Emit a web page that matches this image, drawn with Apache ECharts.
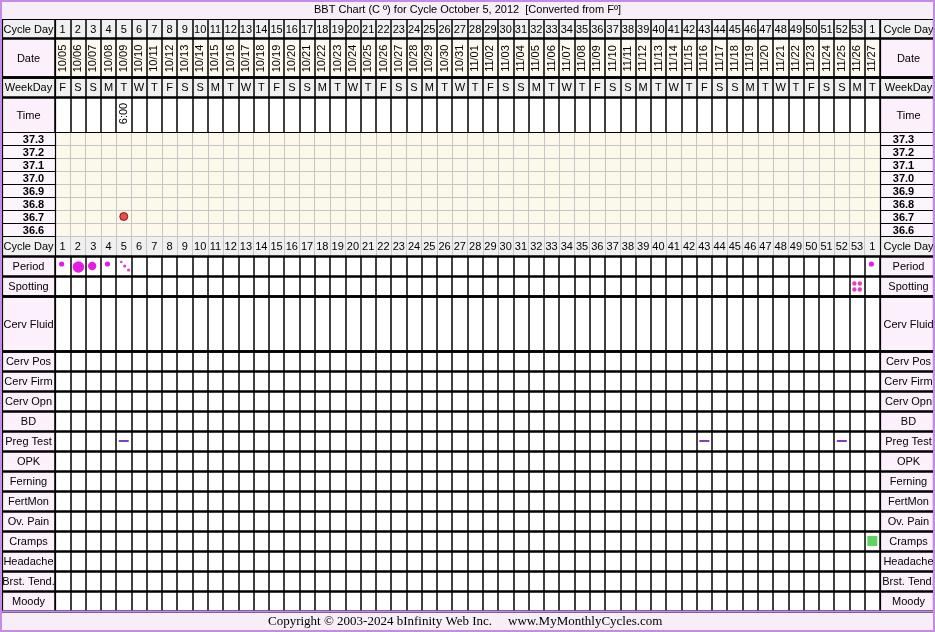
<!DOCTYPE html>
<html><head><meta charset="utf-8">
<script src="https://cdn.jsdelivr.net/npm/echarts@6/dist/echarts.min.js"></script>
<style>html,body{margin:0;padding:0;background:#fff}#c{width:935px;height:632px}</style>
</head><body><div id="c"></div>
<script>
// ---------- data ----------
const cycleDays = ['1','2','3','4','5','6','7','8','9','10','11','12','13','14','15','16','17','18','19','20','21','22','23','24','25','26','27','28','29','30','31','32','33','34','35','36','37','38','39','40','41','42','43','44','45','46','47','48','49','50','51','52','53','1'];
const dates = ['10/05','10/06','10/07','10/08','10/09','10/10','10/11','10/12','10/13','10/14','10/15','10/16','10/17','10/18','10/19','10/20','10/21','10/22','10/23','10/24','10/25','10/26','10/27','10/28','10/29','10/30','10/31','11/01','11/02','11/03','11/04','11/05','11/06','11/07','11/08','11/09','11/10','11/11','11/12','11/13','11/14','11/15','11/16','11/17','11/18','11/19','11/20','11/21','11/22','11/23','11/24','11/25','11/26','11/27'];
const weekDays = ['F','S','S','M','T','W','T','F','S','S','M','T','W','T','F','S','S','M','T','W','T','F','S','S','M','T','W','T','F','S','S','M','T','W','T','F','S','S','M','T','W','T','F','S','S','M','T','W','T','F','S','S','M','T'];
const tempLabels = ['37.3','37.2','37.1','37.0','36.9','36.8','36.7','36.6'];
const upperLabels = ['Cycle Day','Date','WeekDay','Time'];
const flowLabels = ['Period','Spotting'];
const fluidLabels = ['Cerv Fluid'];
const lowerLabels = ['Cerv Pos','Cerv Firm','Cerv Opn','BD','Preg Test','OPK','Ferning','FertMon','Ov. Pain','Cramps','Headache','Brst. Tend.','Moody'];
const timeCols = [5];
const timeVals = ['6:00'];
const bbtCols = [5];
const bbtTemps = [36.7];
const periodCols = [1,2,3,4,5,54];
const periodFlow = ['light','heavy','medium','light','spot','light'];
const spottingCols = [53];
const pregTestCols = [5,43,52];
const pregTestResult = ['neg','neg','neg'];
const crampsCols = [54];
const titleText = 'BBT Chart (C \u00ba) for Cycle October 5, 2012  [Converted from F\u00ba]';
const footerLeft = 'Copyright \u00a9 2003-2024 bInfinity Web Inc.';
const footerRight = 'www.MyMonthlyCycles.com';

// ---------- layout ----------
const FONT = '"Liberation Sans", Arial, sans-serif';
const GREY = '#f0f0f0', PINK = '#fdf0fd', CREAM = '#fdf9ee', TCREAM = '#fcf8ea', LGRID = '#c6c6c6';
const bands = [
  {top:19, h:19, rows:[upperLabels[0]], mbg:GREY, lbg:GREY, vc:'#000', vw:1.5, hc:'#000', hw:1, z:1},
  {top:38, h:39, rows:[upperLabels[1]], mbg:CREAM, lbg:PINK, vc:'#000', vw:1.5, hc:'#000', hw:2.5, z:1},
  {top:77, h:20, rows:[upperLabels[2]], mbg:GREY, lbg:GREY, vc:'#000', vw:1.5, hc:'#000', hw:2.5, z:1},
  {top:97, h:35, rows:[upperLabels[3]], mbg:'#fff', lbg:PINK, vc:'#000', vw:1.5, hc:'#000', hw:1, z:1},
  {top:132, h:104, rows:tempLabels, mbg:TCREAM, lbg:'#fdf5fd', vc:LGRID, vw:1, hc:LGRID, hw:1, z:0, bold:true},
  {top:236, h:20, rows:[upperLabels[0]], mbg:GREY, lbg:GREY, vc:LGRID, vw:1, hc:LGRID, hw:1, z:0},
  {top:256, h:40, rows:flowLabels, mbg:'#fff', lbg:PINK, vc:'#000', vw:1.5, hc:'#000', hw:2.5, z:1},
  {top:296, h:55, rows:fluidLabels, mbg:'#fff', lbg:PINK, vc:'#000', vw:1.5, hc:'#000', hw:2.5, z:1},
  {top:351, h:260, rows:lowerLabels, mbg:'#fff', lbg:PINK, vc:'#000', vw:1.5, hc:'#000', hw:2.5, z:1}
];
const cols3 = [{left:2, width:53, side:'L'}, {left:55, width:825, side:'M'}, {left:880, width:53, side:'R'}];

const grid = [], xAxis = [], yAxis = [], series = [];
const hidden = {axisLine:{show:false}, axisTick:{show:false, interval:0}, axisLabel:{show:false, interval:0}};

bands.forEach((b, bi) => {
  cols3.forEach((c, ci) => {
    const gi = bi*3 + ci;
    const isM = c.side === 'M';
    grid.push({left:c.left, top:b.top, width:c.width, height:b.h, show:true,
      backgroundColor: isM ? b.mbg : b.lbg, borderWidth:0, outerBoundsMode:'none'});
    xAxis.push(Object.assign({type:'category', gridIndex:gi, data: isM ? dates : ['x'],
      z: isM ? b.z : 2,
      splitLine:{show:true, interval:0, lineStyle:{color: isM ? b.vc : '#000', width: isM ? b.vw : 1.2}}}, hidden));
    yAxis.push(Object.assign({type:'category', gridIndex:gi, data:b.rows, inverse:true,
      z: isM ? b.z : 2,
      splitLine:{show:true, interval:0, lineStyle:{color: isM ? b.hc : '#000', width: isM ? b.hw : (b.hw === 2.5 ? 2.5 : 1)}}}, hidden));
    if (!isM) {
      const rows = b.rows;
      const dx = b.bold ? (c.side === 'L' ? 5 : -3) : (c.side === 'L' ? 0 : 2);
      series.push({type:'custom', xAxisIndex:gi, yAxisIndex:gi, silent:true, z:3,
        data: rows.map((r, i) => [0, i]),
        renderItem(params, api) {
          const p = api.coord([api.value(0), api.value(1)]);
          return {type:'text', x:p[0] + dx, y:p[1] + 1, style:{text: rows[params.dataIndex],
            font: (b.bold ? 'bold ' : '') + '11px ' + FONT, fill:'#000', align:'center', verticalAlign:'middle'}};
        }});
    }
  });
});

function mIdx(bi) { return bi*3 + 1; }
function cellText(bi, cols, texts, opt) {
  const gi = mIdx(bi);
  series.push({type:'custom', xAxisIndex:gi, yAxisIndex:gi, silent:true, z:3,
    data: cols.map(c => [c - 1, 0]),
    renderItem(params, api) {
      const p = api.coord([api.value(0), api.value(1)]);
      return {type:'text', x:p[0], y:p[1] + (opt.dy || 0), rotation: opt.rot || 0,
        style:{text: texts[params.dataIndex], font: '11px ' + FONT, fill:'#000', align:'center', verticalAlign:'middle'}};
    }});
}
const allCols = cycleDays.map((d, i) => i + 1);
cellText(0, allCols, cycleDays, {dy:1});
cellText(1, allCols, dates, {rot:Math.PI/2, dy:1});
cellText(2, allCols, weekDays, {dy:1});
cellText(3, timeCols, timeVals, {rot:Math.PI/2, dy:-1});
cellText(5, allCols, cycleDays, {dy:1});

// BBT temperature points
series.push({type:'scatter', xAxisIndex:mIdx(4), yAxisIndex:mIdx(4), z:5, silent:true,
  data: bbtCols.map((c, i) => [c - 1, bbtTemps[i].toFixed(1)]),
  symbol:'circle', symbolSize:8,
  itemStyle:{color:'#e8202a', borderColor:'#5a0000', borderWidth:1}});

// Period
series.push({type:'custom', xAxisIndex:mIdx(6), yAxisIndex:mIdx(6), silent:true, z:5,
  data: periodCols.map(c => [c - 1, 0]),
  renderItem(params, api) {
    const p = api.coord([api.value(0), api.value(1)]);
    const f = periodFlow[params.dataIndex];
    const col = '#e61ce6';
    if (f === 'spot') {
      return {type:'group', children:[[-2.5,-4,1.3],[1,0,1.6],[4.8,4,1.6]].map(o => ({type:'circle',
        shape:{cx:p[0]+o[0], cy:p[1]+o[1], r:o[2]}, style:{fill:'#e040c0'}}))};
    }
    const r = f === 'heavy' ? 5.8 : f === 'medium' ? 4.2 : 2.6;
    const dy = f === 'heavy' ? 1 : f === 'medium' ? 0 : -2;
    const dx = f === 'heavy' ? 0.5 : -1;
    return {type:'circle', shape:{cx:p[0]+dx, cy:p[1]+dy, r}, style:{fill:col}};
  }});
// Spotting
series.push({type:'custom', xAxisIndex:mIdx(6), yAxisIndex:mIdx(6), silent:true, z:5,
  data: spottingCols.map(c => [c - 1, 1]),
  renderItem(params, api) {
    const p = api.coord([api.value(0), api.value(1)]);
    return {type:'group', children:[[-2.7,-2.5],[2.7,-2.5],[-2.7,3.5],[2.7,3.5]].map(o => ({type:'circle',
      shape:{cx:p[0]+o[0], cy:p[1]+o[1], r:2.2}, style:{fill:'#e040c0'}}))};
  }});
// Preg test
series.push({type:'custom', xAxisIndex:mIdx(8), yAxisIndex:mIdx(8), silent:true, z:5,
  data: pregTestCols.map(c => [c - 1, lowerLabels.indexOf('Preg Test')]),
  renderItem(params, api) {
    const p = api.coord([api.value(0), api.value(1)]);
    return {type:'rect', shape:{x:p[0]-5, y:p[1]-1, width:10, height:2},
      style:{fill: pregTestResult[params.dataIndex] === 'neg' ? '#7f3fbf' : '#e02020'}};
  }});
// Cramps
series.push({type:'custom', xAxisIndex:mIdx(8), yAxisIndex:mIdx(8), silent:true, z:5,
  data: crampsCols.map(c => [c - 1, lowerLabels.indexOf('Cramps')]),
  renderItem(params, api) {
    const p = api.coord([api.value(0), api.value(1)]);
    return {type:'rect', shape:{x:p[0]-5, y:p[1]-5, width:10, height:10}, style:{fill:'#5fd35f'}};
  }});

const option = {
  animation:false,
  grid, xAxis, yAxis, series,
  graphic:[
    {type:'rect', z:-10, shape:{x:0, y:0, width:935, height:19}, style:{fill:'#f7eef7'}},
    {type:'rect', z:-10, shape:{x:0, y:611, width:935, height:21}, style:{fill:'#f7eef7'}},
    {type:'text', z:10, x:467.5, y:10, style:{text:titleText, font:'11px ' + FONT, fill:'#000', align:'center', verticalAlign:'middle'}},
    {type:'text', z:10, x:492, y:622, style:{text:footerLeft, font:'13px "Liberation Serif", serif', fill:'#000', align:'right', verticalAlign:'middle'}},
    {type:'text', z:10, x:508, y:622, style:{text:footerRight, font:'13px "Liberation Serif", serif', fill:'#000', align:'left', verticalAlign:'middle'}},
    {type:'line', z:20, shape:{x1:1, y1:611.5, x2:934, y2:611.5}, style:{stroke:'#c48ae8', lineWidth:2}},
    {type:'rect', z:20, shape:{x:1, y:1, width:933, height:630}, style:{fill:null, stroke:'#c48ae8', lineWidth:2}}
  ]
};
const chart = echarts.init(document.getElementById('c'), null, {renderer:'canvas'});
chart.setOption(option);
</script>
</body></html>
